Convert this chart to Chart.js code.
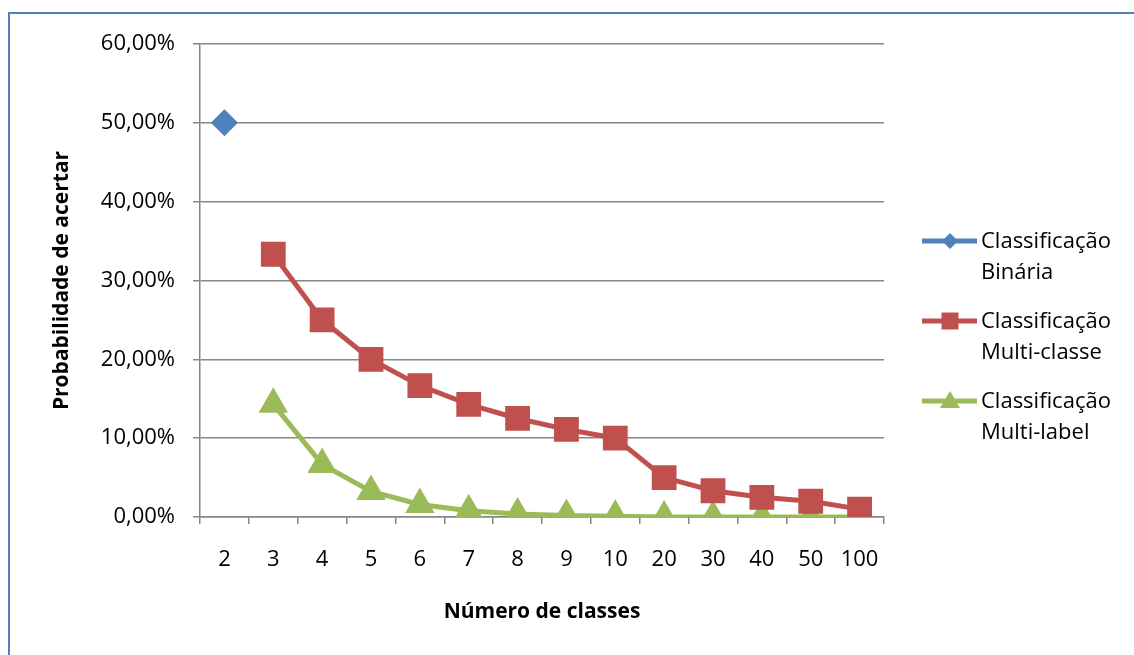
<!DOCTYPE html>
<html>
<head>
<meta charset="utf-8">
<script src="https://cdn.jsdelivr.net/npm/chart.js@4.4.1/dist/chart.umd.min.js"></script>
<style>
  html, body { margin: 0; padding: 0; background: #fff; }
  canvas { display: block; }
</style>
</head>
<body>
<canvas id="chartProb" width="1134" height="655"></canvas>
<script>
const categories = ["2", "3", "4", "5", "6", "7", "8", "9", "10", "20", "30", "40", "50", "100"];
const binaria = [50, null, null, null, null, null, null, null, null, null, null, null, null, null];
const multiClasse = [null, 33.33, 25, 20, 16.67, 14.29, 12.5, 11.11, 10, 5, 3.33, 2.5, 2, 1];
const multiLabel = [null, 14.29, 6.67, 3.23, 1.59, 0.79, 0.39, 0.2, 0.1, 0, 0, 0, 0, 0];
const legendLines = [
  ["Classificação", "Binária"],
  ["Classificação", "Multi-classe"],
  ["Classificação", "Multi-label"],
];

const FONT = "'Open Sans', sans-serif";
const GRID = "#868686";

// excel-like frame + legend with two-line labels
const framePlugin = {
  id: "frame",
  afterDraw(chart) {
    const ctx = chart.ctx;
    ctx.save();
    ctx.strokeStyle = "#4F81BD";
    ctx.lineWidth = 2;
    ctx.beginPath();
    ctx.moveTo(9, 660);
    ctx.lineTo(9, 13);
    ctx.lineTo(1140, 13);
    ctx.stroke();

    ctx.font = "22px " + FONT;
    ctx.textBaseline = "middle";
    ctx.textAlign = "left";
    chart.data.datasets.forEach((ds, i) => {
      const y = 241 + i * 80;
      ctx.strokeStyle = ds.borderColor;
      ctx.lineWidth = 5;
      ctx.beginPath();
      ctx.moveTo(922, y);
      ctx.lineTo(977, y);
      ctx.stroke();
      ctx.fillStyle = ds.borderColor;
      ctx.beginPath();
      const cx = 950;
      if (ds.pointStyle === "rectRot") {
        ctx.moveTo(cx, y - 8); ctx.lineTo(cx + 8, y); ctx.lineTo(cx, y + 8); ctx.lineTo(cx - 8, y);
      } else if (ds.pointStyle === "rect") {
        ctx.rect(cx - 8.5, y - 8.5, 17, 17);
      } else {
        ctx.moveTo(cx, y - 10); ctx.lineTo(cx + 10, y + 7); ctx.lineTo(cx - 10, y + 7);
      }
      ctx.closePath();
      ctx.fill();
      ctx.fillStyle = "#000";
      legendLines[i].forEach((t, j) => ctx.fillText(t, 981, y + 1 + j * 30.5));
    });
    ctx.restore();
  },
};

new Chart(document.getElementById("chartProb"), {
  type: "line",
  data: {
    labels: categories,
    datasets: [
      {
        label: "Classificação Binária",
        data: binaria,
        borderColor: "#4F81BD",
        backgroundColor: "#4F81BD",
        borderWidth: 5,
        pointStyle: "rectRot",
        pointRadius: 10,
      },
      {
        label: "Classificação Multi-classe",
        data: multiClasse,
        borderColor: "#C0504D",
        backgroundColor: "#C0504D",
        borderWidth: 5,
        pointStyle: "rect",
        pointRadius: 14,
      },
      {
        label: "Classificação Multi-label",
        data: multiLabel,
        borderColor: "#9BBB59",
        backgroundColor: "#9BBB59",
        borderWidth: 5,
        pointStyle: "triangle",
        pointRadius: 12,
      },
    ],
  },
  options: {
    responsive: false,
    animation: false,
    events: [],
    layout: { padding: { left: 0, right: 250, top: 44, bottom: 0 } },
    elements: { line: { tension: 0, fill: false }, point: { borderWidth: 1 } },
    plugins: {
      legend: { display: false },
      tooltip: { enabled: false },
    },
    scales: {
      x: {
        offset: true,
        afterFit: (s) => { s.height = 138; },
        grid: { drawOnChartArea: false, drawTicks: true, tickLength: 7, color: GRID, lineWidth: 1.5, offset: true },
        border: { color: GRID, width: 1.5 },
        ticks: { color: "#000", font: { family: FONT, size: 22 }, padding: 23, autoSkip: false, maxRotation: 0 },
        title: {
          display: true,
          text: "Número de classes",
          color: "#000",
          font: { family: FONT, size: 21, weight: "bold" },
          padding: { top: 4, bottom: 30 },
        },
      },
      y: {
        min: 0,
        max: 60,
        afterFit: (s) => { s.width = 200; },
        grid: { color: GRID, lineWidth: 1.5, tickLength: 7 },
        border: { color: GRID, width: 1.5 },
        ticks: {
          stepSize: 10,
          color: "#000",
          font: { family: FONT, size: 22 },
          padding: 18,
          callback: (v) => v.toFixed(2).replace(".", ",") + "%",
        },
        title: {
          display: true,
          text: "Probabilidade de acertar",
          color: "#000",
          font: { family: FONT, size: 21, weight: "bold" },
          padding: { top: 49, bottom: 4 },
        },
      },
    },
  },
  plugins: [framePlugin],
});
</script>
</body>
</html>
